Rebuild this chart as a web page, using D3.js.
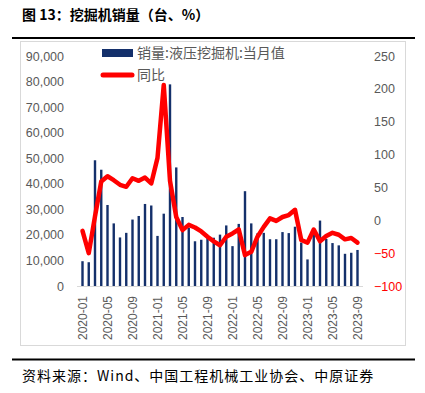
<!DOCTYPE html>
<html>
<head>
<meta charset="utf-8">
<script src="https://cdn.jsdelivr.net/npm/d3@7"></script>
<style>
  body { margin: 0; background: #fff; }
  svg { display: block; }
  .cn { font-family: "Noto Sans CJK SC", "Noto Sans", sans-serif; }
  .num { font-family: "Liberation Sans", Arial, sans-serif; }
</style>
</head>
<body>
<div id="chart"></div>
<script>
// months on the category axis
const months = [
  "2020-01","2020-02","2020-03","2020-04","2020-05","2020-06","2020-07","2020-08","2020-09","2020-10","2020-11","2020-12",
  "2021-01","2021-02","2021-03","2021-04","2021-05","2021-06","2021-07","2021-08","2021-09","2021-10","2021-11","2021-12",
  "2022-01","2022-02","2022-03","2022-04","2022-05","2022-06","2022-07","2022-08","2022-09","2022-10","2022-11","2022-12",
  "2023-01","2023-02","2023-03","2023-04","2023-05","2023-06","2023-07","2023-08","2023-09"
];

// 销量:液压挖掘机:当月值 (台)
const sales = [
  9700, 9300, 49200, 45500, 31700, 24500, 19000, 20800, 26000, 27400, 32100, 31500,
  19600, 28300, 78900, 46400, 27000, 22800, 17500, 18100, 19300, 18900, 20100, 23700,
  15600, 24300, 37100, 24500, 20600, 20800, 18300, 18300, 21100, 20700, 23200, 17000,
  10400, 20300, 25600, 18400, 16800, 15900, 12600, 13000, 14100
];

// 同比 (%)
const yoy = [
  -16, -50, 6, 59, 67, 61, 54, 51, 64, 60, 65, 56,
  95, 206, 60, 5, -15, -7, -11, -17, -25, -32, -38, -25,
  -20, -14, -53, -48, -25, -10, 3, -1, 5, 8, 16, -30,
  -34, -14, -32, -24, -19, -22, -29, -27, -34
];

const leftTicks = [0, 10000, 20000, 30000, 40000, 50000, 60000, 70000, 80000, 90000];
const rightTicks = [-100, -50, 0, 50, 100, 150, 200, 250];

const W = 425, H = 393;
const barColor = "#14306b";
const lineColor = "#ff0000";
const textGray = "#595959";

const svg = d3.select("#chart").append("svg")
  .attr("width", W).attr("height", H);

// title + rules
svg.append("text").attr("class", "cn")
  .attr("x", 22).attr("y", 20)
  .attr("font-size", 14).attr("font-weight", "bold").attr("fill", "#000")
  .text("图 13：挖掘机销量（台、%）");

svg.append("line").attr("x1", 12).attr("x2", 415).attr("y1", 38).attr("y2", 38)
  .attr("stroke", "#000").attr("stroke-width", 2);

svg.append("rect").attr("x", 20.5).attr("y", 41.5).attr("width", 385).attr("height", 304)
  .attr("fill", "none").attr("stroke", "#d9d9d9");

svg.append("line").attr("x1", 12).attr("x2", 415).attr("y1", 359.5).attr("y2", 359.5)
  .attr("stroke", "#000").attr("stroke-width", 2);

svg.append("text").attr("class", "cn")
  .attr("x", 22).attr("y", 381)
  .attr("font-size", 14).attr("letter-spacing", 1).attr("fill", "#000")
  .text("资料来源：Wind、中国工程机械工业协会、中原证券");

// scales
const x = d3.scalePoint().domain(months).range([82.5, 357.5]);
const yL = d3.scaleLinear().domain([0, 90000]).range([286, 56]);
const yR = d3.scaleLinear().domain([-100, 250]).range([286, 56]);
const barW = 2.4;

// left axis
const axL = svg.append("g").attr("class", "num")
  .attr("transform", "translate(64,0)")
  .call(d3.axisLeft(yL).tickValues(leftTicks).tickSize(0).tickPadding(0).tickFormat(d3.format(",")));
axL.select(".domain").remove();
axL.selectAll("text").attr("font-size", 12.5).attr("fill", textGray)
  .attr("font-family", "Liberation Sans, Arial, sans-serif");

// right axis
const axR = svg.append("g").attr("class", "num")
  .attr("transform", "translate(374,0)")
  .call(d3.axisRight(yR).tickValues(rightTicks).tickSize(0).tickPadding(0));
axR.select(".domain").remove();
axR.selectAll("text").attr("font-size", 12.5)
  .attr("font-family", "Liberation Sans, Arial, sans-serif")
  .attr("fill", d => d < 0 ? lineColor : textGray);

// baseline
svg.append("line").attr("x1", 77).attr("x2", 363).attr("y1", 286.5).attr("y2", 286.5)
  .attr("stroke", "#d9d9d9");

// x axis labels
const axX = svg.append("g")
  .attr("transform", "translate(0,290)")
  .call(d3.axisBottom(x).tickValues(months.filter((m, i) => i % 4 === 0)).tickSize(0).tickPadding(0));
axX.select(".domain").remove();
axX.selectAll("text")
  .attr("font-size", 12).attr("fill", textGray)
  .attr("font-family", "Liberation Sans, Arial, sans-serif")
  .attr("transform", "rotate(-90)")
  .attr("text-anchor", "end")
  .attr("x", -6).attr("y", 0).attr("dy", "0.35em");

// bars
svg.append("g").selectAll("rect")
  .data(months)
  .join("rect")
  .attr("x", (d, i) => x(d) - barW / 2)
  .attr("y", (d, i) => yL(sales[i]))
  .attr("width", barW)
  .attr("height", (d, i) => yL(0) - yL(sales[i]))
  .attr("fill", barColor);

// yoy line
const line = d3.line()
  .x((d, i) => x(months[i]))
  .y(d => yR(d));

svg.append("path")
  .datum(yoy)
  .attr("d", line)
  .attr("fill", "none")
  .attr("stroke", lineColor)
  .attr("stroke-width", 4.5)
  .attr("stroke-linejoin", "round")
  .attr("stroke-linecap", "round");

// legend
const lg = svg.append("g");
lg.append("rect").attr("x", 102).attr("y", 49).attr("width", 31).attr("height", 8).attr("fill", barColor);
lg.append("text").attr("class", "cn").attr("x", 137).attr("y", 58)
  .attr("font-size", 14).attr("fill", textGray).text("销量:液压挖掘机:当月值");
lg.append("line").attr("x1", 103).attr("x2", 132).attr("y1", 75).attr("y2", 75)
  .attr("stroke", lineColor).attr("stroke-width", 5).attr("stroke-linecap", "round");
lg.append("text").attr("class", "cn").attr("x", 137).attr("y", 80)
  .attr("font-size", 14).attr("fill", textGray).text("同比");
</script>
</body>
</html>
